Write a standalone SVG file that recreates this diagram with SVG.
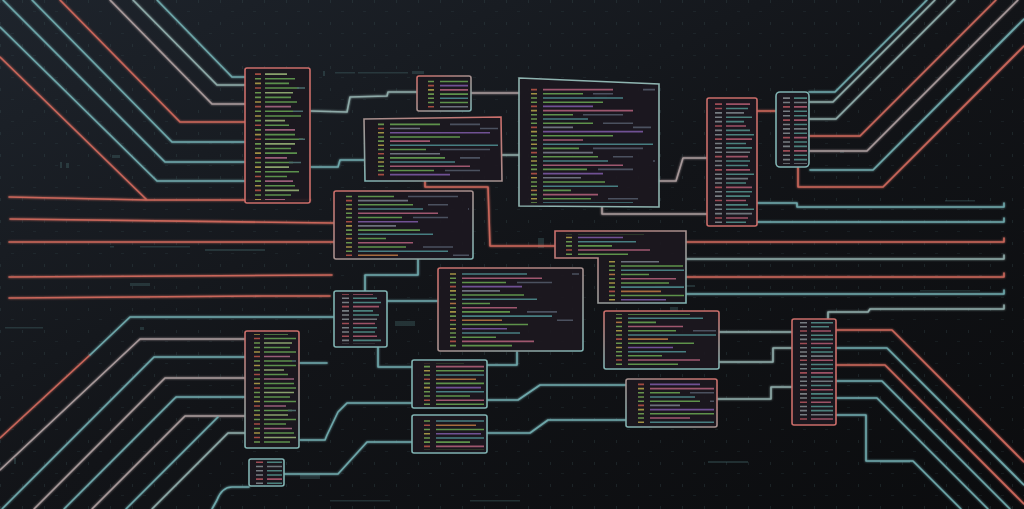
<svg xmlns="http://www.w3.org/2000/svg" xmlns:xlink="http://www.w3.org/1999/xlink" width="1024" height="509" viewBox="0 0 1024 509">
<style>
.ln{fill:none;stroke-width:1.6;stroke-linejoin:round;stroke-linecap:round}
.r{stroke:#c9665a}.t{stroke:#6ea7aa}.g{stroke:#a8999a}.gt{stroke:#8eaaa8}
.pn{fill:#1c1820;fill-opacity:.92;stroke-width:1.6}
.pr{stroke:#cc6e6a}.pt{stroke:#80b3b2}
.code{opacity:.72}
.frag{fill:#4f7a7c;opacity:.3}
</style>
<defs>
<linearGradient id="bg" x1="0" y1="0" x2="1" y2="1">
<stop offset="0" stop-color="#1e242c"/><stop offset=".5" stop-color="#121418"/><stop offset="1" stop-color="#0b0c0e"/>
</linearGradient>
<linearGradient id="bRT" x1="0" y1="0" x2="1" y2="1"><stop offset="0" stop-color="#cc6e6a"/><stop offset="1" stop-color="#80b3b2"/></linearGradient>
<linearGradient id="bTR" x1="1" y1="0" x2="0" y2="1"><stop offset="0" stop-color="#cc6e6a"/><stop offset="1" stop-color="#80b3b2"/></linearGradient>
<linearGradient id="bV" x1="0" y1="0" x2="0" y2="1"><stop offset="0" stop-color="#cc6e6a"/><stop offset="1" stop-color="#80b3b2"/></linearGradient>
<pattern id="grid" width="22" height="22" patternUnits="userSpaceOnUse">
<rect x="0" y="0" width="1" height="3" fill="#3d5358" opacity=".3"/><rect x="11" y="11" width="3" height="1" fill="#3d5358" opacity=".2"/>
</pattern>
<filter id="glow" x="-5%" y="-5%" width="110%" height="110%">
<feGaussianBlur stdDeviation="1.3" result="b"/><feMerge><feMergeNode in="b"/><feMergeNode in="SourceGraphic"/></feMerge>
</filter>
<g id="codeA" stroke-width="2.6" fill="none">
<path stroke="#d8604f" d="M8 6h6M8 34h6M8 69h6M8 111h6M8 146h6M8 202h6M8 237h6"/>
<path stroke="#d4c052" d="M8 13h6M8 41h6M8 76h6M8 97h6M8 125h6M8 153h6M8 188h6M8 216h6M8 251h6"/>
<path stroke="#e0924e" d="M8 174h6"/>
<path stroke="#86c45e" d="M8 20h6M8 27h6M8 48h6M8 55h6M8 62h6M8 83h6M8 90h6M8 104h6M8 118h6M8 132h6M8 139h6M8 160h6M8 167h6M8 181h6M8 195h6M8 209h6M8 223h6M8 230h6M8 244h6"/>
<path stroke="#d2708e" d="M20 6h70M20 41h90M20 90h40M20 132h80M20 181h55M20 237h72"/>
<path stroke="#78c25c" d="M20 13h40M20 27h60M20 48h30M20 62h50M20 83h70M20 104h36M20 118h55M20 139h44M20 160h62M20 174h28M20 188h48M20 209h66M20 230h34M20 244h50"/>
<path stroke="#58a6a8" d="M20 20h80M20 55h45M20 97h110M20 125h65M20 167h75M20 195h90M20 223h58M20 251h38"/>
<path stroke="#9268c2" d="M20 34h50M20 76h100M20 146h60M20 216h45"/>
<path stroke="#8c93a0" d="M20 69h30M20 111h50M20 153h38"/>
<path stroke="#dc8c4a" d="M20 202h40"/>
<path stroke="#5e6878" d="M70 13h20M60 48h40M80 62h30M70 104h50M90 118h20M75 139h35M85 188h30M120 6h14M110 69h18M130 125h10M115 202h16"/>
</g>
<g id="listA" stroke-width="2.6" fill="none">
<path stroke="#d8604f" d="M6 5h6M6 27.5h6M6 57.5h6M6 87.5h6M6 110h6M6 140h6M6 170h6M6 192.5h6"/>
<path stroke="#d4c052" d="M6 20h6M6 50h6M6 72.5h6M6 102.5h6M6 132.5h6M6 155h6M6 185h6M6 207.5h6"/>
<path stroke="#86c45e" d="M6 12.5h6M6 35h6M6 42.5h6M6 65h6M6 80h6M6 95h6M6 117.5h6M6 125h6M6 147.5h6M6 162.5h6M6 177.5h6M6 200h6"/>
<path stroke="#74bf5e" d="M16 12.5h30M16 20h24M16 27.5h34M16 42.5h26M16 50h32M16 65h28M16 72.5h36M16 87.5h24M16 102.5h30M16 110h38M16 125h26M16 132.5h32M16 147.5h28M16 162.5h34M16 170h22M16 185h30M16 200h26"/>
<path stroke="#b4d68a" d="M16 5h22M16 35h28M16 80h20M16 117.5h30M16 155h24M16 192.5h34"/>
<path stroke="#c87a9a" d="M16 57.5h26M16 95h30M16 140h22M16 177.5h28M16 207.5h20"/>
<path stroke="#5e8a8a" d="M48 27.5h8M44 65h10M50 110h6M40 147.5h12"/>
</g>
<g id="listB" stroke-width="2.6" fill="none">
<path stroke="#d0606a" d="M5 5h7M5 12h7M5 40h7M5 61h7M5 89h7M5 110h7M5 138h7M5 159h7M5 187h7"/>
<path stroke="#9aa4a8" d="M5 19h7M5 26h7M5 33h7M5 47h7M5 54h7M5 68h7M5 75h7M5 82h7M5 96h7M5 103h7M5 117h7M5 124h7M5 131h7M5 145h7M5 152h7M5 166h7M5 173h7M5 180h7M5 194h7"/>
<path stroke="#5eaaa2" d="M16 12h22M16 26h26M16 33h18M16 47h24M16 54h28M16 68h20M16 75h26M16 96h24M16 103h22M16 117h28M16 131h20M16 145h26M16 152h24M16 166h22M16 173h28M16 194h20"/>
<path stroke="#cf6a82" d="M16 5h24M16 40h20M16 61h26M16 89h22M16 110h24M16 138h26M16 159h20M16 187h22"/>
<path stroke="#8f9aa0" d="M16 19h18M16 82h24M16 124h22M16 180h26"/>
</g>
</defs>

<rect width="1024" height="509" fill="url(#bg)"/>
<rect width="1024" height="509" fill="url(#grid)"/>
<g class="frag">
<rect x="323" y="71" width="2" height="5"/><rect x="335" y="72" width="20" height="1.5"/><rect x="358" y="72" width="50" height="1.5"/><rect x="412" y="71" width="12" height="3"/>
<rect x="60" y="162" width="2" height="6"/><rect x="66" y="163" width="3" height="5"/><rect x="112" y="155" width="8" height="3"/>
<rect x="110" y="246" width="4" height="1.5"/><rect x="140" y="246" width="50" height="1.5"/><rect x="205" y="249" width="60" height="2"/>
<rect x="130" y="283" width="20" height="3"/><rect x="140" y="297" width="10" height="1.5"/>
<rect x="5" y="327" width="38" height="1.5"/><rect x="140" y="327" width="4" height="3"/>
<rect x="395" y="321" width="20" height="5"/><rect x="300" y="475" width="20" height="4"/><rect x="708" y="461" width="40" height="2"/>
<rect x="880" y="461" width="30" height="2"/><rect x="655" y="285" width="40" height="2"/><rect x="670" y="307" width="8" height="4"/>
<rect x="920" y="290" width="60" height="1.5"/><rect x="840" y="150" width="4" height="3"/><rect x="945" y="200" width="30" height="1.5"/>
<rect x="530" y="200" width="4" height="6"/><rect x="595" y="95" width="12" height="4"/><rect x="538" y="238" width="6" height="10"/>
<rect x="330" y="500" width="60" height="1.5"/><rect x="470" y="500" width="50" height="1.5"/><rect x="14" y="458" width="2" height="6"/>
</g>

<g id="connectors" filter="url(#glow)">
<path class="ln t" d="M157 0L232 77H245"/>
<path class="ln gt" d="M133 0L217 85H245"/>
<path class="ln g" d="M110 0L212 104H245"/>
<path class="ln r" d="M60 0L180 122H245"/>
<path class="ln t" d="M32 0L172 142H245"/>
<path class="ln t" d="M3 0L165 162H245"/>
<path class="ln t" d="M0 27L157 181H245"/>
<path class="ln r" d="M0 57L147 200M9 197L147 200H310"/>
<path class="ln r" d="M10 219L334 223"/>
<path class="ln r" d="M9 242H334"/>
<path class="ln r" d="M9 277L332 275"/>
<path class="ln r" d="M9 298L262 296H330"/>
<path class="ln r" d="M0 438L90 355"/>
<path class="ln t" d="M90 355L130 317H334"/>
<path class="ln g" d="M0 470L140 339H245"/>
<path class="ln t" d="M2 509L154 357H245"/>
<path class="ln g" d="M34 509L165 378H245"/>
<path class="ln t" d="M64 509L176 397H245"/>
<path class="ln g" d="M92 509L185 416H245"/>
<path class="ln t" d="M126 509L218 417"/>
<path class="ln gt" d="M152 509L228 433H245"/>
<path class="ln t" d="M212 509L217 500Q222 487 232 487H249"/>
<path class="ln gt" d="M311 111L347 112L350 97L387 96L388 92H417"/>
<path class="ln g" d="M471 93H519"/>
<path class="ln t" d="M311 167H338L340 160H365"/>
<path class="ln gt" d="M502 155H519"/>
<path class="ln r" d="M425 181V187H488L490 246H555"/>
<path class="ln g" d="M659 181H676L683 158H707"/>
<path class="ln g" d="M602 207V214H707"/>
<path class="ln r" d="M757 111H776"/>
<path class="ln t" d="M809 92H835L927 0"/>
<path class="ln gt" d="M809 102H833L935 0"/>
<path class="ln gt" d="M809 119H836L955 0"/>
<path class="ln r" d="M809 136H860L996 0"/>
<path class="ln g" d="M809 151H867L1018 0"/>
<path class="ln t" d="M810 170H873L1024 19"/>
<path class="ln r" d="M798 167V187H883L1024 46"/>
<path class="ln t" d="M757 203H797V207H1004V203"/>
<path class="ln t" d="M757 222H1004V218"/>
<path class="ln r" d="M686 242H1004V238"/>
<path class="ln gt" d="M686 259H1004V255"/>
<path class="ln r" d="M686 277H1004V273"/>
<path class="ln t" d="M686 294H1004V290"/>
<path class="ln gt" d="M828 319V312H868L870 309H1004V305"/>
<path class="ln r" d="M836 330H892L1024 462"/>
<path class="ln t" d="M836 348H887L1024 485"/>
<path class="ln r" d="M836 365H885L1024 504"/>
<path class="ln t" d="M836 381H882L1010 509"/>
<path class="ln t" d="M836 398H877L988 509"/>
<path class="ln t" d="M836 415H866V461H913L961 509"/>
<path class="ln gt" d="M719 332H792"/>
<path class="ln gt" d="M719 362H773V348H792"/>
<path class="ln gt" d="M717 399H771V387H792"/>
<path class="ln t" d="M418 259V275H365V291"/>
<path class="ln t" d="M387 301H438"/>
<path class="ln t" d="M378 347V367H412"/>
<path class="ln t" d="M300 363H327"/>
<path class="ln t" d="M300 440H325L327 435L338 412L347 403H412"/>
<path class="ln t" d="M284 474H338L367 442H412"/>
<path class="ln t" d="M487 365H517V352"/>
<path class="ln t" d="M487 400H518L540 385H626"/>
<path class="ln t" d="M487 433H530L548 420H626"/>
</g>

<g id="p1"><rect class="pn pr" x="245" y="68" width="65" height="135" rx="2"/><svg x="249" y="71" width="58" height="129" viewBox="0 0 58 208" preserveAspectRatio="none" class="code"><use href="#listA"/></svg></g>
<g id="p2"><rect class="pn" stroke="url(#bRT)" x="417" y="76" width="54" height="35" rx="2"/><svg x="420" y="79" width="48" height="29" viewBox="0 23 48 48" preserveAspectRatio="none" class="code"><use href="#codeA"/></svg></g>
<g id="p3"><polygon class="pn" stroke="url(#bTR)" points="364,119 501,117 502,181 365,181"/><svg x="370" y="122" width="128" height="55" viewBox="0 58 128 92" preserveAspectRatio="none" class="code"><use href="#codeA"/></svg></g>
<g id="p4"><polygon class="pn" stroke="#8fb4b0" stroke-width="1.6" points="519,78 659,84 659,207 519,206"/><svg x="523" y="86" width="132" height="117" viewBox="0 0 132 195" preserveAspectRatio="none" class="code"><use href="#codeA"/></svg></g>
<g id="p5"><rect class="pn pr" x="707" y="98" width="50" height="128" rx="2"/><svg x="710" y="101" width="44" height="122" viewBox="0 0 44 195" preserveAspectRatio="none" class="code"><use href="#listB"/></svg></g>
<g id="p6"><rect class="pn pt" x="776" y="92" width="33" height="75" rx="4"/><svg x="778" y="95" width="29" height="69" viewBox="0 70 29 110" preserveAspectRatio="none" class="code"><use href="#listB"/></svg></g>
<g id="p7"><rect class="pn" stroke="url(#bRT)" x="334" y="191" width="139" height="68" rx="2"/><svg x="338" y="194" width="131" height="62" viewBox="0 100 131 103" preserveAspectRatio="none" class="code"><use href="#codeA"/></svg></g>
<g id="p8"><path class="pn" stroke="url(#bRT)" d="M555 231H686V303H598V258H555Z"/><svg x="558" y="234" width="126" height="22" viewBox="0 210 126 37" preserveAspectRatio="none" class="code"><use href="#codeA"/></svg><svg x="601" y="260" width="83" height="41" viewBox="0 150 83 68" preserveAspectRatio="none" class="code"><use href="#codeA"/></svg></g>
<g id="p9"><rect class="pn pt" x="334" y="291" width="53" height="56" rx="2"/><svg x="337" y="294" width="47" height="50" viewBox="0 40 47 83" preserveAspectRatio="none" class="code"><use href="#listB"/></svg></g>
<g id="p10"><rect class="pn" stroke="url(#bRT)" x="438" y="268" width="145" height="83" rx="2"/><svg x="442" y="271" width="137" height="77" viewBox="0 120 137 128" preserveAspectRatio="none" class="code"><use href="#codeA"/></svg></g>
<g id="p11"><rect class="pn" stroke="url(#bV)" x="604" y="311" width="115" height="58" rx="2"/><svg x="608" y="314" width="108" height="52" viewBox="0 160 108 87" preserveAspectRatio="none" class="code"><use href="#codeA"/></svg></g>
<g id="p12"><rect class="pn pr" x="792" y="319" width="44" height="106" rx="2"/><svg x="795" y="322" width="38" height="100" viewBox="0 25 38 167" preserveAspectRatio="none" class="code"><use href="#listB"/></svg></g>
<g id="p13"><rect class="pn" stroke="url(#bV)" x="245" y="331" width="54" height="117" rx="2"/><svg x="248" y="334" width="48" height="111" viewBox="0 20 48 185" preserveAspectRatio="none" class="code"><use href="#listA"/></svg></g>
<g id="p14"><rect class="pn pt" x="412" y="360" width="75" height="48" rx="2"/><svg x="416" y="363" width="68" height="42" viewBox="0 175 68 70" preserveAspectRatio="none" class="code"><use href="#codeA"/></svg></g>
<g id="p15"><rect class="pn" stroke="url(#bTR)" x="626" y="379" width="91" height="48" rx="2"/><svg x="630" y="382" width="84" height="42" viewBox="0 30 84 70" preserveAspectRatio="none" class="code"><use href="#codeA"/></svg></g>
<g id="p16"><rect class="pn pt" x="412" y="415" width="75" height="38" rx="2"/><svg x="416" y="418" width="68" height="32" viewBox="0 190 68 53" preserveAspectRatio="none" class="code"><use href="#codeA"/></svg></g>
<g id="p17"><rect class="pn pt" x="249" y="459" width="35" height="27" rx="2"/><svg x="251" y="461" width="31" height="23" viewBox="0 10 31 38" preserveAspectRatio="none" class="code"><use href="#listB"/></svg></g>
</svg>
